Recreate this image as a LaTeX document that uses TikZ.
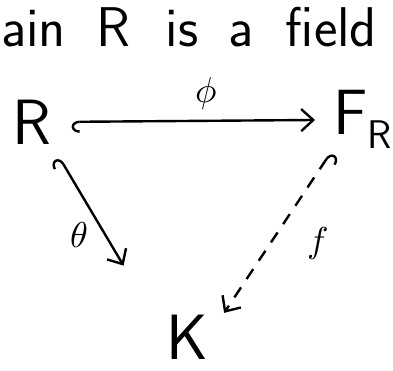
\documentclass[tikz,border=0pt]{standalone}
\usepackage{unicode-math}
\setmathfont{Latin Modern Math}
\usepackage{tikz}
\usetikzlibrary{arrows.meta}

\begin{document}
\begin{tikzpicture}[
        x=1pt, y=1pt,
        every node/.style={font=\sffamily, align=center, inner sep=0pt},
        obj/.style={font=\fontsize{64}{70}\selectfont\sffamily},
        lbl/.style={font=\fontsize{36}{40}\selectfont},
        arr/.style={line width=2.4pt, {Hooks[left,length=8pt,width=22pt]}-{Straight Barb[length=12pt,width=22pt,line width=2.4pt]}},
        dasharr/.style={line width=2.4pt, {Hooks[right,length=8pt,width=22pt]}-{Straight Barb[length=12pt,width=22pt,line width=2.4pt]}, dash pattern=on 12pt off 10pt}
      ]
        \useasboundingbox (0,0) rectangle (393,371);
        \node[font=\fontsize{56}{62}\selectfont\sffamily, anchor=base west] (title) at (1,324)
          {ain\hspace{30pt}R\hspace{36pt}is\hspace{30pt}a\hspace{32pt}field};
        \node[obj] (r)  at (32,249) {R};
        \node[obj, anchor=base west] (fr) at (333,236) {F\raisebox{-14pt}{\fontsize{40}{44}\selectfont R}};
        \node[obj] (k)  at (187,34) {K};
        \draw[arr, shorten <=20pt, shorten >=18pt] (r.east) -- node[lbl, above=10pt, pos=0.55]{$\phi$} (fr.west);
        \draw[arr, shorten <=15pt, shorten >=83pt] (r.south east) -- node[lbl, left=16pt, pos=0.47]{$\theta$} (k.west);
        \draw[dasharr, shorten <=4pt, shorten >=29pt] (fr.south west) -- node[lbl, right=36pt, pos=0.5]{$f$} (k.east);
      \end{tikzpicture}
\end{document}
